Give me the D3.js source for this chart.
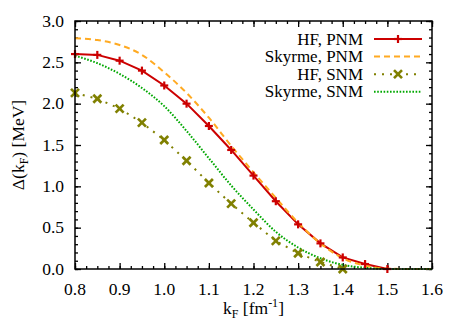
<!DOCTYPE html>
<html>
<head>
<meta charset="utf-8">
<script src="https://cdn.jsdelivr.net/npm/d3@7"></script>
<style>
  body { margin: 0; background: #fff; }
</style>
</head>
<body>
<svg id="chart" width="463" height="324"></svg>
<script>
// k_F grid and gap values
var kfHF_PNM = [0.8, 0.85, 0.9, 0.95, 1.0, 1.05, 1.1, 1.15, 1.2, 1.25, 1.3, 1.35, 1.4, 1.45, 1.5];
var gapHF_PNM = [2.60, 2.59, 2.52, 2.40, 2.22, 2.00, 1.73, 1.44, 1.13, 0.82, 0.54, 0.31, 0.14, 0.06, 0.0];

var kfSky = [0.8, 0.85, 0.9, 0.95, 1.0, 1.05, 1.1, 1.15, 1.2, 1.25, 1.3, 1.35, 1.4, 1.45, 1.5, 1.55, 1.6];
var gapSky_PNM = [2.79, 2.77, 2.71, 2.59, 2.38, 2.13, 1.83, 1.49, 1.17, 0.86, 0.56, 0.31, 0.13, 0.04, 0.005, 0.0, 0.0];

var kfHF_SNM = [0.8, 0.85, 0.9, 0.95, 1.0, 1.05, 1.1, 1.15, 1.2, 1.25, 1.3, 1.35, 1.4];
var gapHF_SNM = [2.13, 2.06, 1.94, 1.77, 1.56, 1.31, 1.04, 0.79, 0.56, 0.34, 0.19, 0.085, 0.0];

var gapSky_SNM = [2.58, 2.49, 2.36, 2.19, 1.97, 1.67, 1.34, 1.01, 0.72, 0.45, 0.26, 0.13, 0.05, 0.015, 0.0, 0.0, 0.0];

var xTicks = [0.8, 0.9, 1.0, 1.1, 1.2, 1.3, 1.4, 1.5, 1.6];
var yTicks = [0.0, 0.5, 1.0, 1.5, 2.0, 2.5, 3.0];

var margin = {left: 75, right: 31, top: 21, bottom: 55};
var W = 463, H = 324;
var fs = 17.5;
var font = "'Liberation Serif'";

var xScale = d3.scaleLinear().domain([0.8, 1.6]).range([margin.left, W - margin.right]);
var yScale = d3.scaleLinear().domain([0, 3]).range([H - margin.bottom, margin.top]);

var svg = d3.select("#chart");

function zip(xs, ys) { return xs.map(function(x, i) { return [x, ys[i]]; }); }

var series = [
  {name: "HF, PNM", data: zip(kfHF_PNM, gapHF_PNM), color: "#cc0000", dash: null, marker: "plus"},
  {name: "Skyrme, PNM", data: zip(kfSky, gapSky_PNM), color: "#ffaa22", dash: "6,4", marker: null},
  {name: "HF, SNM", data: zip(kfHF_SNM, gapHF_SNM), color: "#808000", dash: "2,6", marker: "cross"},
  {name: "Skyrme, SNM", data: zip(kfSky, gapSky_SNM), color: "#00a800", dash: "1.6,1.6", marker: null}
];

//////////////// axes (ticks inward on all four sides) ////////////////
var xMinor = d3.range(0.8, 1.6001, 0.025);
var yMinor = d3.range(0, 3.0001, 0.1);

function tickLayer(axisFn, scale, ticks, size, transform) {
  var g = svg.append("g").attr("transform", transform)
    .call(axisFn(scale).tickValues(ticks).tickSize(size).tickFormat(""));
  g.select(".domain").remove();
  g.selectAll("line").attr("stroke", "#000").attr("stroke-width", 1.3);
  return g;
}

var bottomY = yScale(0), topY = yScale(3), leftX = xScale(0.8), rightX = xScale(1.6);
tickLayer(d3.axisBottom, xScale, xMinor, -3, "translate(0," + bottomY + ")");
tickLayer(d3.axisBottom, xScale, xTicks, -6, "translate(0," + bottomY + ")");
tickLayer(d3.axisTop, xScale, xMinor, -3, "translate(0," + topY + ")");
tickLayer(d3.axisTop, xScale, xTicks, -6, "translate(0," + topY + ")");
tickLayer(d3.axisLeft, yScale, yMinor, -3, "translate(" + leftX + ",0)");
tickLayer(d3.axisLeft, yScale, yTicks, -6, "translate(" + leftX + ",0)");
tickLayer(d3.axisRight, yScale, yMinor, -3, "translate(" + rightX + ",0)");
tickLayer(d3.axisRight, yScale, yTicks, -6, "translate(" + rightX + ",0)");

svg.append("g").selectAll("text").data(xTicks).enter().append("text")
  .attr("x", function(d) { return xScale(d); })
  .attr("y", bottomY + 26)
  .attr("text-anchor", "middle")
  .style("font-size", fs + "px")
  .style("font-family", font)
  .text(function(d) { return d.toFixed(1); });

svg.append("g").selectAll("text").data(yTicks).enter().append("text")
  .attr("x", leftX - 11)
  .attr("y", function(d) { return yScale(d); })
  .attr("dy", "0.33em")
  .attr("text-anchor", "end")
  .style("font-size", fs + "px")
  .style("font-family", font)
  .text(function(d) { return d.toFixed(1); });

//////////////// curves ////////////////
var line = d3.line()
  .x(function(d) { return xScale(d[0]); })
  .y(function(d) { return yScale(d[1]); });

var plot = svg.append("g");

series.forEach(function(s) {
  plot.append("path")
    .datum(s.data)
    .attr("fill", "none")
    .attr("stroke", s.color)
    .attr("stroke-width", 2)
    .attr("stroke-dasharray", s.dash)
    .attr("d", s.marker ? line.curve(d3.curveLinear)(s.data) : line.curve(d3.curveMonotoneX)(s.data));
});

function drawMarker(g, type, color, x, y) {
  var r = 4;
  var segs = type === "plus"
    ? [[-r, 0, r, 0], [0, -r, 0, r]]
    : [[-r, -r, r, r], [-r, r, r, -r]];
  segs.forEach(function(p) {
    g.append("line")
      .attr("x1", x + p[0]).attr("y1", y + p[1])
      .attr("x2", x + p[2]).attr("y2", y + p[3])
      .attr("stroke", color)
      .attr("stroke-width", type === "plus" ? 2.2 : 2.6);
  });
}

series.forEach(function(s) {
  if (!s.marker) return;
  s.data.forEach(function(d) {
    drawMarker(plot, s.marker, s.color, xScale(d[0]), yScale(d[1]));
  });
});

//////////////// frame ////////////////
svg.append("rect")
  .attr("x", leftX).attr("y", topY)
  .attr("width", rightX - leftX).attr("height", bottomY - topY)
  .attr("fill", "none").attr("stroke", "#000").attr("stroke-width", 1.5);

//////////////// legend ////////////////
var legend = svg.append("g");
series.forEach(function(s, i) {
  var y = 39 + i * 17.6;
  legend.append("text")
    .attr("x", 363).attr("y", y)
    .attr("dy", "0.33em")
    .attr("text-anchor", "end")
    .style("font-size", "17px")
    .style("font-family", font)
    .text(s.name);
  legend.append("line")
    .attr("x1", 374).attr("x2", 422)
    .attr("y1", y).attr("y2", y)
    .attr("stroke", s.color)
    .attr("stroke-width", 2)
    .attr("stroke-dasharray", s.dash);
  if (s.marker) drawMarker(legend, s.marker, s.color, 398, y);
});

//////////////// axis titles ////////////////
var yt = svg.append("text")
  .attr("transform", "translate(24," + ((topY + bottomY) / 2) + ") rotate(-90)")
  .attr("text-anchor", "middle")
  .style("font-size", fs + "px")
  .style("font-family", font);
yt.append("tspan").text("Δ(k");
yt.append("tspan").style("font-size", "12px").attr("dy", 4).text("F");
yt.append("tspan").attr("dy", -4).text(") [MeV]");

var xt = svg.append("text")
  .attr("x", (leftX + rightX) / 2)
  .attr("y", 314)
  .attr("text-anchor", "middle")
  .style("font-size", fs + "px")
  .style("font-family", font);
xt.append("tspan").text("k");
xt.append("tspan").style("font-size", "12px").attr("dy", 4).text("F");
xt.append("tspan").attr("dy", -4).text(" [fm");
xt.append("tspan").style("font-size", "12px").attr("dy", -7).text("-1");
xt.append("tspan").attr("dy", 7).text("]");
</script>
</body>
</html>
